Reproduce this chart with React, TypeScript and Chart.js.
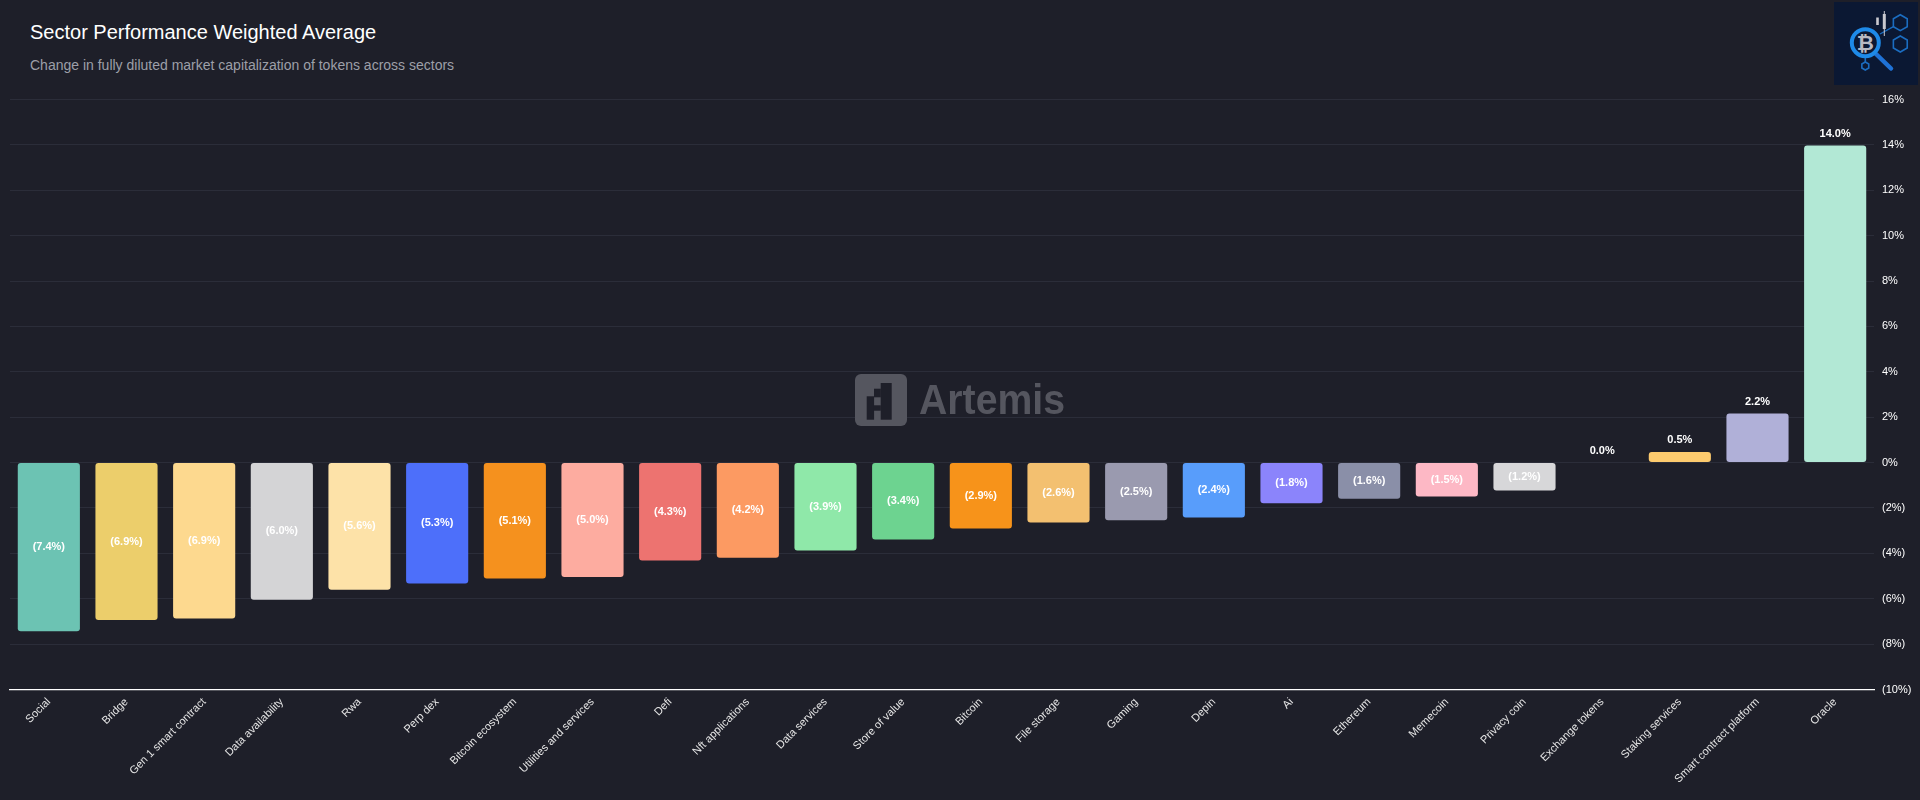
import React, { useEffect, useRef } from "react";
import { Chart, registerables } from "chart.js";

Chart.register(...registerables);

const categories = [
  "Social", "Bridge", "Gen 1 smart contract", "Data availability", "Rwa", "Perp dex",
  "Bitcoin ecosystem", "Utilities and services", "Defi", "Nft applications", "Data services",
  "Store of value", "Bitcoin", "File storage", "Gaming", "Depin", "Ai", "Ethereum",
  "Memecoin", "Privacy coin", "Exchange tokens", "Staking services", "Smart contract platform", "Oracle",
];

const changePct = [
  -7.43, -6.94, -6.87, -6.04, -5.6, -5.33,
  -5.11, -5.04, -4.32, -4.19, -3.88,
  -3.39, -2.91, -2.64, -2.54, -2.42, -1.79, -1.59,
  -1.5, -1.23, 0.0, 0.47, 2.16, 13.97,
];

const barColors = [
  "#6cc3b3", "#ecce6b", "#fdd98f", "#d4d4d6", "#fde2a8", "#4d6ffa",
  "#f5911e", "#fdaca0", "#ed7370", "#fc9a62", "#8fe8a9",
  "#6dd390", "#f7931a", "#f3c070", "#9a9aaf", "#589dfb", "#8b84fb", "#8a8fa8",
  "#fdb8c5", "#d7d7d9", "#9aa0b0", "#fdcb6e", "#b0b0d8", "#b2e8d5",
];

const yMin = -10;
const yMax = 16;
const yStep = 2;

const BG = "#1e1f29";
const FONT = '"Liberation Sans", Arial, Helvetica, sans-serif';

const fmtPct = (v: number, digits: number) => {
  const s = Math.abs(v).toFixed(digits) + "%";
  return v < 0 ? `(${s})` : s;
};

const valueLabelPlugin = {
  id: "valueLabels",
  afterDatasetsDraw(chart: any) {
    const ctx = chart.ctx;
    const meta = chart.getDatasetMeta(0);
    ctx.save();
    ctx.font = `bold 11px ${FONT}`;
    ctx.fillStyle = "#ffffff";
    ctx.textAlign = "center";
    ctx.textBaseline = "middle";
    meta.data.forEach((bar: any, i: number) => {
      const v = changePct[i];
      const { x, y, base } = bar.getProps(["x", "y", "base"], true);
      const ty = v < 0 ? (y + base) / 2 : y - 11.5;
      ctx.fillText(fmtPct(v, 1), x, ty);
    });
    ctx.restore();
  },
};

const watermarkPlugin = {
  id: "watermark",
  beforeDatasetsDraw(chart: any) {
    const ctx = chart.ctx;
    ctx.save();
    const gx = 855, gy = 374, gs = 52;
    ctx.fillStyle = "#55565f";
    ctx.beginPath();
    (ctx as any).roundRect(gx, gy, gs, gs, 6);
    ctx.fill();
    ctx.fillStyle = BG;
    ctx.fillRect(880.7, 383, 11, 36.7);
    ctx.fillRect(874, 388.7, 6.8, 8.6);
    ctx.fillRect(866.7, 396.3, 7.4, 23.4);
    ctx.fillRect(873.9, 405.3, 6.9, 5.4);
    ctx.fillStyle = "#55565f";
    ctx.font = `bold 42px ${FONT}`;
    ctx.textAlign = "left";
    ctx.textBaseline = "alphabetic";
    ctx.fillText("Artemis", 919, 414, 146);
    ctx.restore();
  },
};

function Logo() {
  const hex = (cx: number, cy: number, r: number) => {
    const pts: string[] = [];
    for (let k = 0; k < 6; k++) {
      const a = (Math.PI / 3) * k - Math.PI / 2;
      pts.push(`${(cx + r * Math.cos(a)).toFixed(2)},${(cy + r * Math.sin(a)).toFixed(2)}`);
    }
    return pts.join(" ");
  };
  return (
    <svg
      style={{ position: "absolute", left: 1832, top: 0 }}
      width={88}
      height={88}
      viewBox="1832 0 88 88"
    >
      <rect x={1834} y={2} width={84} height={83} fill="#0b1833" />
      <polygon points={hex(1900.3, 22.7, 8)} fill="none" stroke="#1b6dc1" strokeWidth={1.6} />
      <polygon points={hex(1900.3, 44, 8)} fill="none" stroke="#1b6dc1" strokeWidth={1.6} />
      <line x1={1893.4} y1={26.7} x2={1880} y2={34} stroke="#1b6dc1" strokeWidth={1.4} />
      <polygon points={hex(1865.3, 66, 4)} fill="none" stroke="#1b6dc1" strokeWidth={1.6} />
      <line x1={1865.3} y1={62} x2={1865.3} y2={57} stroke="#1b6dc1" strokeWidth={1.6} />
      <line x1={1884.3} y1={11} x2={1884.3} y2={36} stroke="#c9c9cf" strokeWidth={1} />
      <rect x={1882.8} y={14} width={3} height={15} fill="#c9c9cf" />
      <rect x={1876.2} y={17.5} width={2.6} height={7.5} fill="#c9c9cf" />
      <line x1={1875} y1={53} x2={1891} y2={68.5} stroke="#1f72d6" strokeWidth={4.5} strokeLinecap="round" />
      <circle cx={1865.3} cy={42.7} r={13.5} fill="#0b1833" stroke="#1e8ae8" strokeWidth={4} />
      <text
        x={1865.3}
        y={50}
        fill="#b9bac3"
        fontSize={21}
        fontWeight="bold"
        textAnchor="middle"
        fontFamily="DejaVu Sans, sans-serif"
      >
        ₿
      </text>
    </svg>
  );
}

export default function App() {
  const canvasRef = useRef<HTMLCanvasElement | null>(null);

  useEffect(() => {
    document.body.style.margin = "0";
    document.body.style.background = BG;
    if (!canvasRef.current) return;
    Chart.defaults.font.family = FONT;
    const chart = new Chart(canvasRef.current, {
      type: "bar",
      data: {
        labels: categories,
        datasets: [
          {
            data: changePct,
            backgroundColor: barColors,
            borderRadius: 3,
            borderSkipped: false,
            barPercentage: 1.0,
            categoryPercentage: 0.8,
          },
        ],
      },
      options: {
        animation: false,
        responsive: false,
        devicePixelRatio: 1,
        layout: { padding: { left: 10, right: 0, top: 99.5, bottom: 0 } },
        plugins: {
          legend: { display: false },
          tooltip: { enabled: false },
          title: { display: false },
        },
        scales: {
          x: {
            grid: { display: false, drawTicks: false },
            border: { display: true, color: "#ffffff", width: 1.2 },
            ticks: {
              color: "#e6e6e6",
              font: { size: 11, family: FONT },
              maxRotation: 45,
              minRotation: 45,
              autoSkip: false,
              padding: 6,
            },
            afterFit(scale: any) {
              scale.height = 110.5;
            },
          },
          y: {
            position: "right",
            min: yMin,
            max: yMax,
            grid: { color: "#2b2d39", lineWidth: 1, drawTicks: false },
            border: { display: false },
            ticks: {
              stepSize: yStep,
              color: "#ffffff",
              font: { size: 11, family: FONT },
              padding: 8,
              callback: (v: any) => fmtPct(Number(v), 0),
            },
            afterFit(scale: any) {
              scale.width = 46;
            },
          },
        },
      },
      plugins: [watermarkPlugin, valueLabelPlugin],
    });
    return () => chart.destroy();
  }, []);

  return (
    <div style={{ position: "absolute", left: 0, top: 0, width: 1920, height: 800, background: BG, overflow: "hidden" }}>
      <div
        style={{
          position: "absolute",
          left: 30,
          top: 22.4,
          fontFamily: FONT,
          fontSize: 20,
          lineHeight: "20px",
          color: "#ffffff",
          whiteSpace: "nowrap",
        }}
      >
        Sector Performance Weighted Average
      </div>
      <div
        style={{
          position: "absolute",
          left: 30,
          top: 58.2,
          fontFamily: FONT,
          fontSize: 14,
          lineHeight: "14px",
          color: "#9d9fa8",
          whiteSpace: "nowrap",
        }}
      >
        Change in fully diluted market capitalization of tokens across sectors
      </div>
      <canvas ref={canvasRef} width={1920} height={800} style={{ position: "absolute", left: 0, top: 0, width: 1920, height: 800 }} />
      <Logo />
    </div>
  );
}
